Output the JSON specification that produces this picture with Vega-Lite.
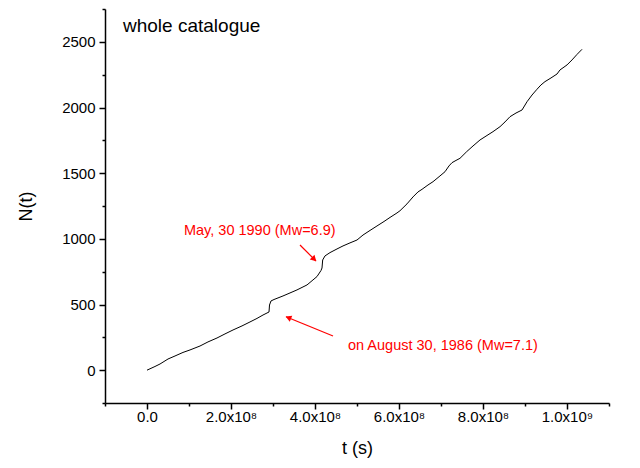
{
  "$schema": "https://vega.github.io/schema/vega-lite/v6.json",
  "autosize": "none",
  "width": 504,
  "height": 394,
  "padding": {"left": 105, "top": 9, "right": 31, "bottom": 65},
  "background": "white",
  "config": {
    "view": {"stroke": null},
    "font": "Liberation Sans",
    "axis": {
      "domainColor": "black", "domainWidth": 1.5,
      "tickColor": "black", "tickWidth": 1.5,
      "labelColor": "black", "labelFont": "Liberation Sans", "labelFontSize": 15,
      "titleColor": "black", "titleFont": "Liberation Sans", "titleFontSize": 18, "titleFontWeight": "normal",
      "grid": false, "labelOverlap": false, "labelFlush": false, "labelBound": false
    }
  },
  "resolve": {"axis": {"x": "independent", "y": "independent"}},
  "datasets": {
    "curve": [
      {"t": 0, "N": 0},
      {"t": 19000000, "N": 28},
      {"t": 31000000, "N": 47},
      {"t": 50000000, "N": 85},
      {"t": 66700000, "N": 108},
      {"t": 85700000, "N": 135},
      {"t": 102400000, "N": 154},
      {"t": 126200000, "N": 184},
      {"t": 145200000, "N": 215},
      {"t": 166700000, "N": 245},
      {"t": 185700000, "N": 276},
      {"t": 204800000, "N": 306},
      {"t": 226200000, "N": 337},
      {"t": 245200000, "N": 367},
      {"t": 261900000, "N": 394},
      {"t": 276200000, "N": 420},
      {"t": 290500000, "N": 443},
      {"t": 291700000, "N": 496},
      {"t": 295200000, "N": 527},
      {"t": 302400000, "N": 538},
      {"t": 323800000, "N": 565},
      {"t": 340500000, "N": 588},
      {"t": 357100000, "N": 611},
      {"t": 381000000, "N": 649},
      {"t": 395200000, "N": 687},
      {"t": 404800000, "N": 713},
      {"t": 414300000, "N": 759},
      {"t": 416700000, "N": 778},
      {"t": 418300000, "N": 839},
      {"t": 423800000, "N": 870},
      {"t": 435700000, "N": 895},
      {"t": 452400000, "N": 923},
      {"t": 466700000, "N": 946},
      {"t": 483300000, "N": 969},
      {"t": 500000000, "N": 991},
      {"t": 514300000, "N": 1029},
      {"t": 531000000, "N": 1064},
      {"t": 547600000, "N": 1098},
      {"t": 564300000, "N": 1132},
      {"t": 578600000, "N": 1163},
      {"t": 595200000, "N": 1197},
      {"t": 602400000, "N": 1214},
      {"t": 619000000, "N": 1266},
      {"t": 633300000, "N": 1319},
      {"t": 645200000, "N": 1357},
      {"t": 654800000, "N": 1377},
      {"t": 669000000, "N": 1410},
      {"t": 681000000, "N": 1435},
      {"t": 697600000, "N": 1479},
      {"t": 709500000, "N": 1511},
      {"t": 719000000, "N": 1555},
      {"t": 726200000, "N": 1580},
      {"t": 735700000, "N": 1597},
      {"t": 745200000, "N": 1613},
      {"t": 761200000, "N": 1664},
      {"t": 776200000, "N": 1707},
      {"t": 792900000, "N": 1753},
      {"t": 809500000, "N": 1787},
      {"t": 823800000, "N": 1816},
      {"t": 840500000, "N": 1854},
      {"t": 852400000, "N": 1890},
      {"t": 864300000, "N": 1930},
      {"t": 878600000, "N": 1958},
      {"t": 892900000, "N": 1981},
      {"t": 904800000, "N": 2044},
      {"t": 916700000, "N": 2095},
      {"t": 928600000, "N": 2139},
      {"t": 938100000, "N": 2172},
      {"t": 947600000, "N": 2197},
      {"t": 961900000, "N": 2225},
      {"t": 976200000, "N": 2255},
      {"t": 983300000, "N": 2286},
      {"t": 1000000000, "N": 2324},
      {"t": 1011900000, "N": 2362},
      {"t": 1023800000, "N": 2404},
      {"t": 1035700000, "N": 2443}
    ],
    "labels": [
      {"t": -57100000, "N": 2621, "text": "whole catalogue", "kind": "title"},
      {"t": 88000000, "N": 1060, "text": "May, 30 1990 (Mw=6.9)", "kind": "note"},
      {"t": 478600000, "N": 184, "text": "on August 30, 1986 (Mw=7.1)", "kind": "note"}
    ],
    "arrows": [
      {"id": "a1", "t": 364300000, "N": 953, "t2": 402400000, "N2": 831, "ht": 396400000, "hN": 851},
      {"id": "a2", "t": 442900000, "N": 260, "t2": 331000000, "N2": 407, "ht": 338600000, "hN": 397}
    ]
  },
  "layer": [
    {
      "data": {"name": "curve"},
      "mark": {"type": "line", "color": "black", "strokeWidth": 1},
      "encoding": {
        "x": {
          "field": "t", "type": "quantitative",
          "scale": {"domain": [-100000000, 1100000000], "nice": false, "zero": false},
          "axis": {
            "orient": "bottom",
            "title": "t (s)",
            "values": [0, 200000000, 400000000, 600000000, 800000000, 1000000000],
            "labelExpr": "datum.value == 0 ? '0.0' : (datum.value >= 1000000000 ? '1.0x10⁹' : format(datum.value/100000000, '.1f') + 'x10⁸')",
            "tickSize": 6,
            "labelPadding": 0,
            "titlePadding": 15
          }
        },
        "y": {
          "field": "N", "type": "quantitative",
          "scale": {"domain": [-250, 2750], "nice": false, "zero": false},
          "axis": {
            "orient": "left",
            "title": "N(t)",
            "values": [0, 500, 1000, 1500, 2000, 2500],
            "format": "d",
            "tickSize": 6,
            "labelPadding": 4,
            "titlePadding": 26
          }
        }
      }
    },
    {
      "data": {"name": "arrows"},
      "mark": {"type": "rule", "color": "#ff0000", "strokeWidth": 1.2},
      "encoding": {
        "x": {"field": "t", "type": "quantitative",
          "axis": {"orient": "bottom", "title": null, "labels": false, "domain": false, "tickSize": 3,
            "values": [-100000000, 100000000, 300000000, 500000000, 700000000, 900000000, 1100000000]}},
        "y": {"field": "N", "type": "quantitative",
          "axis": {"orient": "left", "title": null, "labels": false, "domain": false, "tickSize": 3,
            "values": [-250, 250, 750, 1250, 1750, 2250, 2750]}},
        "x2": {"field": "t2"},
        "y2": {"field": "N2"}
      }
    },
    {
      "data": {"name": "arrows"},
      "transform": [{"filter": "datum.id == 'a1'"}],
      "mark": {"type": "point", "shape": "triangle", "filled": true, "color": "#ff0000", "size": 45, "angle": 135, "opacity": 1},
      "encoding": {
        "x": {"field": "ht", "type": "quantitative", "axis": null},
        "y": {"field": "hN", "type": "quantitative", "axis": null}
      }
    },
    {
      "data": {"name": "arrows"},
      "transform": [{"filter": "datum.id == 'a2'"}],
      "mark": {"type": "point", "shape": "triangle", "filled": true, "color": "#ff0000", "size": 45, "angle": 292, "opacity": 1},
      "encoding": {
        "x": {"field": "ht", "type": "quantitative", "axis": null},
        "y": {"field": "hN", "type": "quantitative", "axis": null}
      }
    },
    {
      "data": {"name": "labels"},
      "transform": [{"filter": "datum.kind == 'title'"}],
      "mark": {"type": "text", "align": "left", "baseline": "middle", "fontSize": 19, "color": "black", "font": "Liberation Sans"},
      "encoding": {
        "x": {"field": "t", "type": "quantitative", "axis": null},
        "y": {"field": "N", "type": "quantitative", "axis": null},
        "text": {"field": "text"}
      }
    },
    {
      "data": {"name": "labels"},
      "transform": [{"filter": "datum.kind == 'note'"}],
      "mark": {"type": "text", "align": "left", "baseline": "middle", "fontSize": 14.5, "color": "#ff0000", "font": "Liberation Sans"},
      "encoding": {
        "x": {"field": "t", "type": "quantitative", "axis": null},
        "y": {"field": "N", "type": "quantitative", "axis": null},
        "text": {"field": "text"}
      }
    }
  ]
}
